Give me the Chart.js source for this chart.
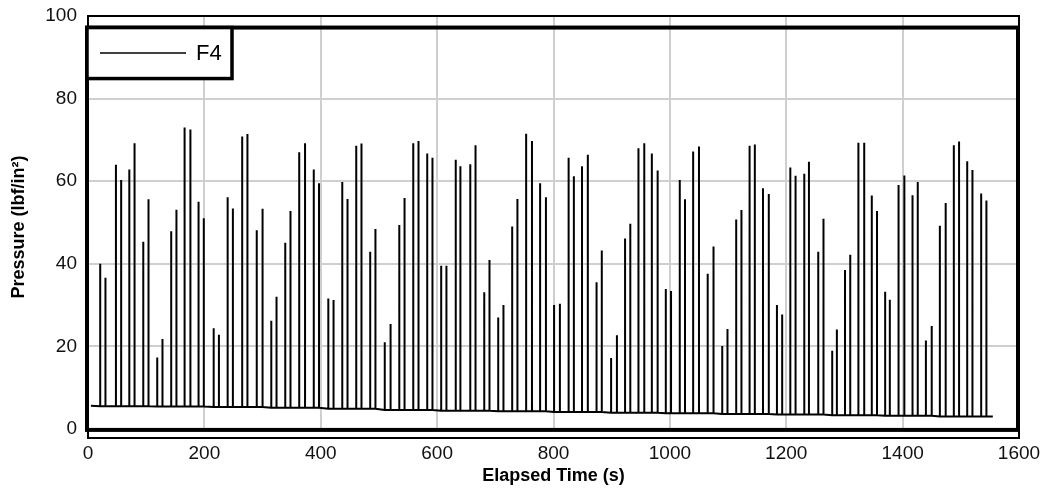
<!DOCTYPE html>
<html><head><meta charset="utf-8">
<script src="https://cdn.jsdelivr.net/npm/chart.js@4/dist/chart.umd.min.js"></script>
<style>html,body{margin:0;padding:0;background:#fff}#wrap{width:1045px;height:488px;position:relative}</style>
</head><body><div id="wrap"><canvas id="c"></canvas></div>
<script>
const seriesName = 'F4';
const xTitle = 'Elapsed Time (s)';
const yTitle = 'Pressure (lbf/in²)';
const xTicks = [0, 200, 400, 600, 800, 1000, 1200, 1400, 1600];
const yTicks = [0, 20, 40, 60, 80, 100];
const edgeTime = [5, 1555];
const edgeValue = [5.6, 3.0];
const spikeTime = [
  21,30,48,57,71,80,95,104,
  119,128,143,152,166,176,190,199,
  216,225,240,249,265,274,290,300,
  315,324,339,348,363,373,388,397,
  413,422,437,446,461,470,485,494,
  510,520,535,544,559,568,583,592,
  607,616,632,640,657,666,681,690,
  705,714,729,738,753,763,777,787,
  801,811,826,835,849,859,874,883,
  899,909,923,932,946,956,969,979,
  993,1002,1017,1026,1040,1050,1065,1075,
  1090,1099,1114,1123,1137,1146,1160,1170,
  1184,1193,1207,1216,1231,1239,1255,1264,
  1279,1287,1301,1310,1324,1334,1347,1356,
  1370,1378,1393,1403,1417,1426,1440,1450,
  1464,1474,1488,1497,1511,1520,1535,1544
];
const spikePeak = [
  40.0,36.6,64.0,60.3,62.8,69.2,45.3,55.6,
  17.3,21.8,47.9,53.1,73.0,72.5,55.0,51.0,
  24.4,22.8,56.1,53.4,70.8,71.4,48.1,53.3,
  26.2,32.0,45.1,52.8,67.0,69.2,62.8,59.5,
  31.6,31.2,59.8,55.7,68.6,69.1,42.9,48.4,
  21.0,25.4,49.4,55.9,69.2,69.7,66.7,65.7,
  39.5,39.5,65.2,63.6,64.1,68.7,33.1,40.9,
  27.0,30.0,49.0,55.7,71.5,69.7,59.5,56.1,
  30.0,30.3,65.7,61.2,63.6,66.4,35.5,43.2,
  17.2,22.7,46.1,49.7,68.0,69.2,66.7,62.6,
  33.9,33.4,60.3,55.6,67.2,68.4,37.6,44.2,
  20.1,24.2,50.7,53.0,68.6,68.9,58.3,56.9,
  30.0,27.7,63.3,61.3,61.8,64.7,42.9,50.9,
  18.9,24.1,38.5,42.2,69.3,69.3,56.5,52.8,
  33.2,31.3,59.1,61.4,56.6,59.8,21.4,24.9,
  49.2,54.7,68.7,69.6,64.8,62.7,57.0,55.3
];
const spikeFoot = [
  5.5,5.5,5.5,5.5,5.5,5.5,5.5,5.5,
  5.4,5.4,5.4,5.4,5.4,5.4,5.4,5.4,
  5.3,5.3,5.3,5.3,5.3,5.3,5.3,5.3,
  5.1,5.1,5.1,5.1,5.1,5.1,5.1,5.1,
  4.9,4.9,4.9,4.9,4.9,4.9,4.9,4.9,
  4.6,4.6,4.6,4.6,4.6,4.6,4.6,4.6,
  4.4,4.4,4.4,4.4,4.4,4.4,4.4,4.4,
  4.3,4.3,4.3,4.3,4.3,4.3,4.3,4.3,
  4.1,4.1,4.1,4.1,4.1,4.1,4.1,4.1,
  3.9,3.9,3.9,3.9,3.9,3.9,3.9,3.9,
  3.8,3.8,3.8,3.8,3.8,3.8,3.8,3.8,
  3.6,3.6,3.6,3.6,3.6,3.6,3.6,3.6,
  3.5,3.5,3.5,3.5,3.5,3.5,3.5,3.5,
  3.3,3.3,3.3,3.3,3.3,3.3,3.3,3.3,
  3.2,3.2,3.2,3.2,3.2,3.2,3.2,3.2,
  3.0,3.0,3.0,3.0,3.0,3.0,3.0,3.0
];

const points = [{x: edgeTime[0], y: edgeValue[0]}];
spikeTime.forEach((t, i) => {
  points.push({x: t, y: spikeFoot[i]}, {x: t, y: spikePeak[i]}, {x: t, y: spikeFoot[i]});
});
points.push({x: edgeTime[1], y: edgeValue[1]});

const FONT = "'Liberation Sans', Arial, Helvetica, sans-serif";
Chart.defaults.font.family = FONT;
Chart.defaults.color = '#111';

const framePlugin = {
  id: 'frame',
  afterDraw(chart) {
    const {ctx, chartArea: a, scales: {x, y}} = chart;
    const y0 = y.getPixelForValue(0);
    const yIn = y.getPixelForValue(97.2);
    ctx.save();
    ctx.fillStyle = '#fff';
    ctx.fillRect(a.left + 2, y0 + 2, a.right - a.left - 4, a.bottom - y0 - 3);
    ctx.strokeStyle = '#000';
    ctx.lineWidth = 2;
    ctx.strokeRect(a.left, a.top, a.right - a.left, a.bottom - a.top);
    ctx.lineWidth = 4;
    ctx.strokeRect(a.left - 1, yIn, a.right - a.left, y0 + 1 - yIn);
    // legend
    const lw = 145, lh = 51;
    ctx.fillStyle = '#fff';
    ctx.fillRect(a.left - 1, yIn, lw, lh);
    ctx.lineWidth = 3.5;
    ctx.strokeRect(a.left - 1, yIn, lw, lh);
    const my = yIn + lh / 2;
    ctx.lineWidth = 1.5;
    ctx.beginPath();
    ctx.moveTo(a.left + 12, my);
    ctx.lineTo(a.left + 98, my);
    ctx.stroke();
    ctx.fillStyle = '#000';
    ctx.font = "22px " + FONT;
    ctx.textBaseline = 'middle';
    ctx.textAlign = 'left';
    ctx.fillText(chart.data.datasets[0].label, a.left + 108, my + 1);
    ctx.restore();
  }
};

new Chart(document.getElementById('c'), {
  type: 'scatter',
  data: {datasets: [{
    label: seriesName, data: points, showLine: true, pointRadius: 0,
    borderColor: '#000', borderWidth: 2, borderJoinStyle: 'bevel', tension: 0
  }]},
  options: {
    responsive: true, maintainAspectRatio: false, animation: false,
    layout: {padding: {top: 16, right: 26, bottom: 0, left: 0}},
    plugins: {legend: {display: false}, tooltip: {enabled: false}},
    scales: {
      x: {
        type: 'linear', min: 0, max: 1600,
        afterBuildTicks: s => { s.ticks = xTicks.map(v => ({value: v})); },
        afterFit: s => { s.height = 50; s.paddingLeft = 0; s.paddingRight = 0; },
        grid: {color: '#cfcfcf', lineWidth: 2, drawTicks: false},
        border: {display: false},
        ticks: {font: {size: 19}, color: '#111', padding: 4, maxRotation: 0, autoSkip: false,
                callback: v => String(v)},
        title: {display: true, text: xTitle, color: '#000', font: {size: 18, weight: 'bold'}, padding: {top: 2, bottom: 1}}
      },
      y: {
        type: 'linear', min: -2.2, max: 100,
        afterBuildTicks: s => { s.ticks = yTicks.map(v => ({value: v})); },
        afterFit: s => { s.width = 88; s.paddingTop = 0; s.paddingBottom = 0; },
        grid: {color: '#cfcfcf', lineWidth: 2, drawTicks: false},
        border: {display: false},
        ticks: {font: {size: 19}, color: '#111', padding: 11, callback: v => String(v)},
        title: {display: true, text: yTitle, color: '#000', font: {size: 18, weight: 'bold'}, padding: {top: 8, bottom: 8}}
      }
    }
  },
  plugins: [framePlugin]
});
</script></body></html>
